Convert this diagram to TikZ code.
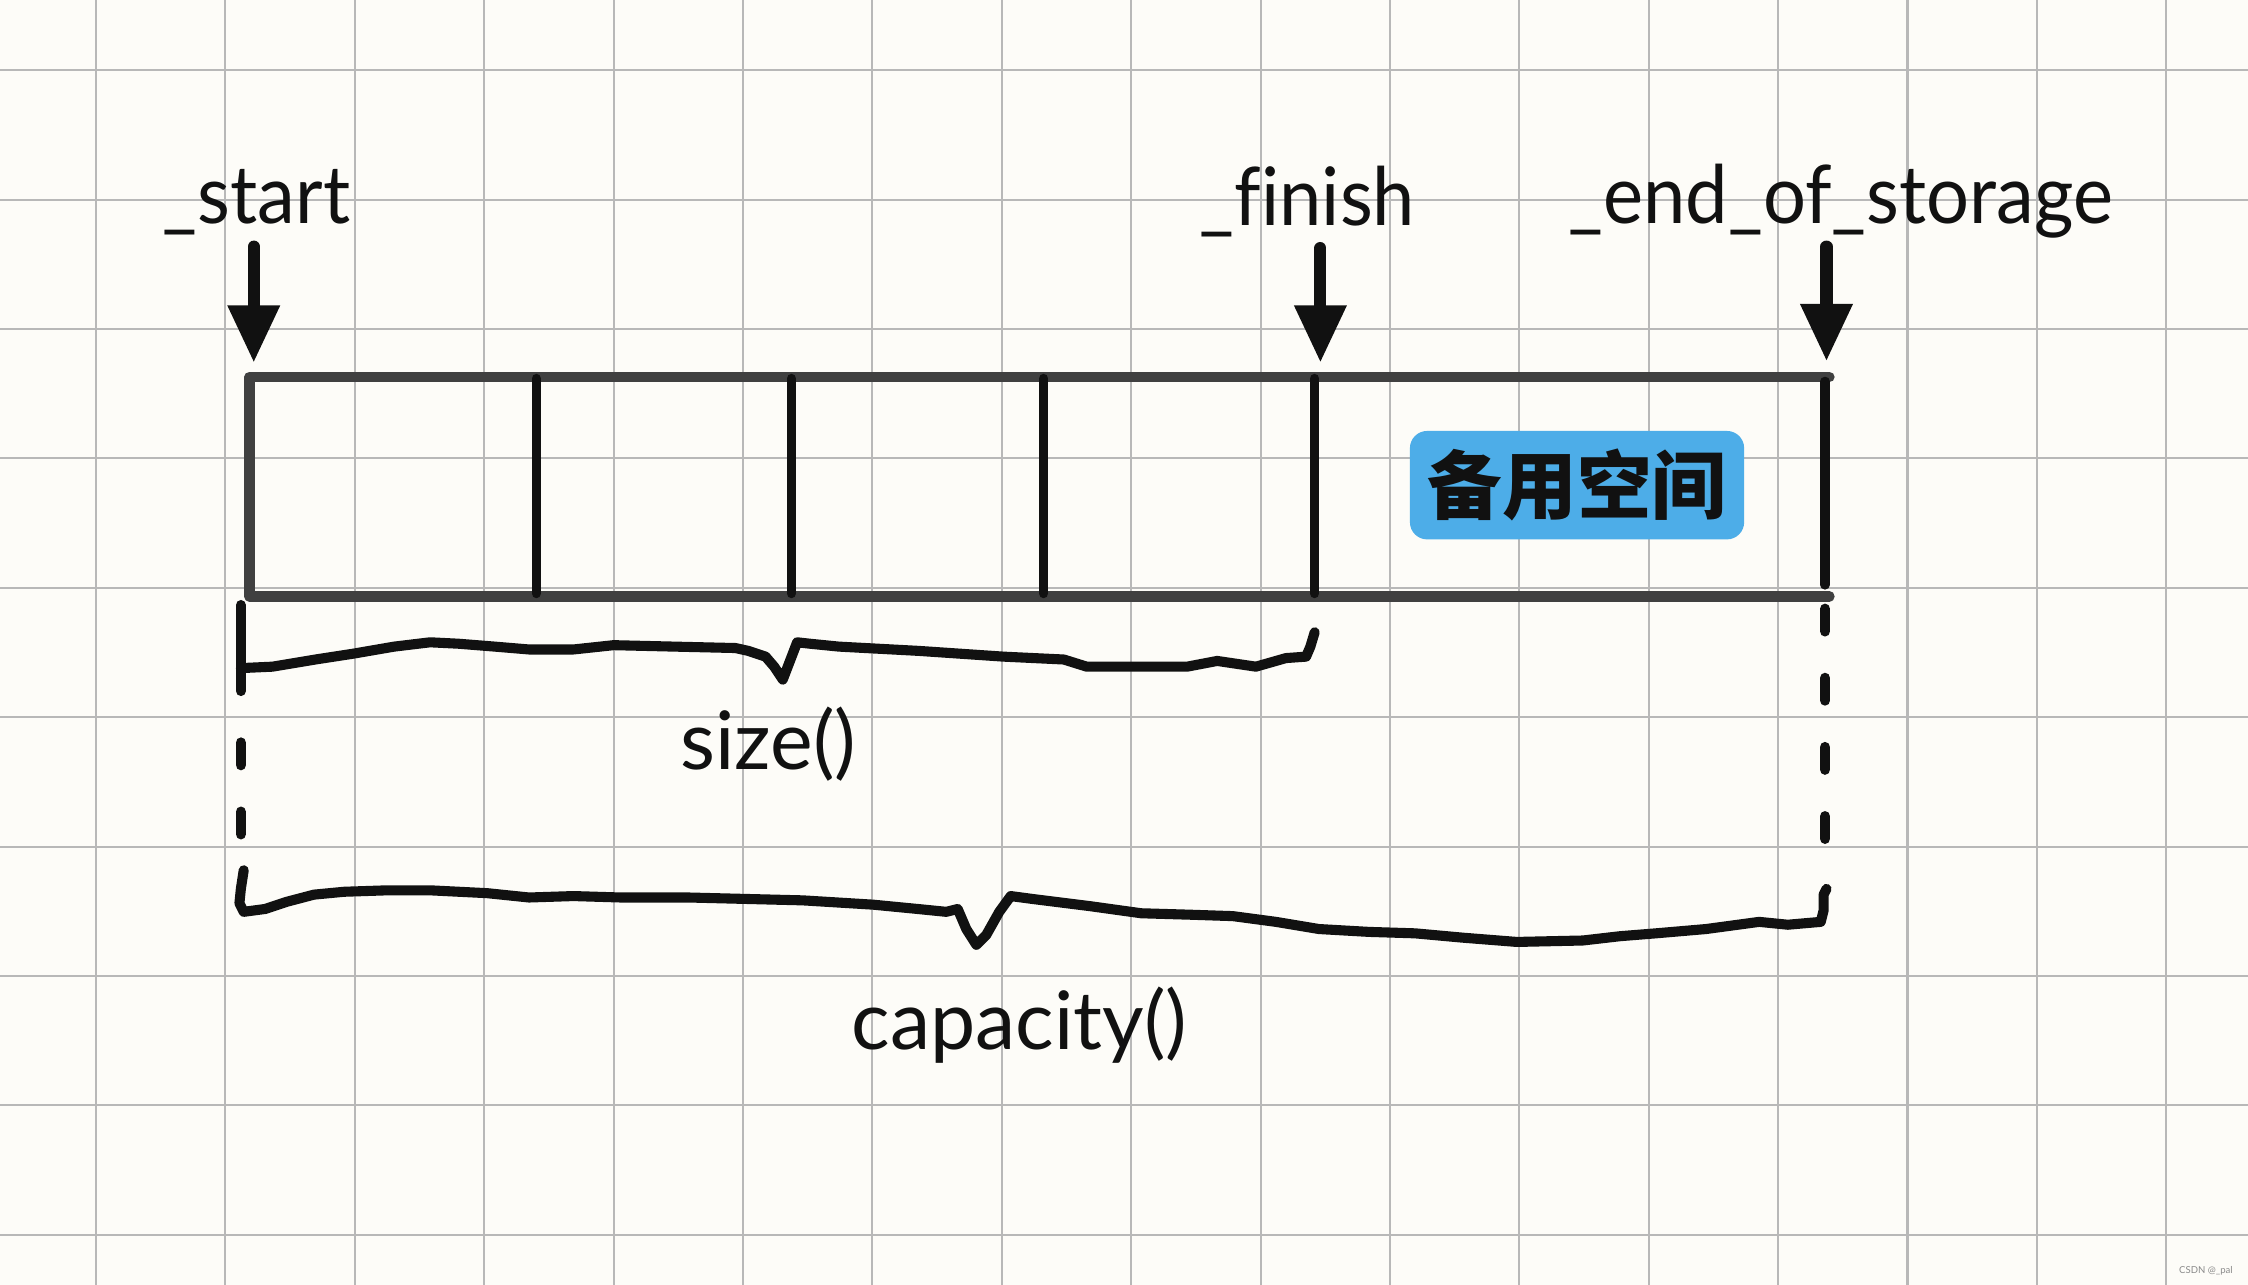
\documentclass[tikz,border=0pt]{standalone}
\usepackage{fontspec}
\setmainfont{Lato}[Ligatures=NoCommon]
\newfontfamily\ptrfont{Lato}[Ligatures=NoCommon, FakeStretch=0.94]
\newfontfamily\cjk{Noto Sans CJK SC}
\usetikzlibrary{arrows.meta}
\definecolor{cpaper}{HTML}{FDFCF8}
\definecolor{cgridline}{HTML}{B8B8B8}
\definecolor{cframe}{HTML}{404040}
\definecolor{cink}{HTML}{111111}
\definecolor{cspare}{HTML}{4DADE8}
\definecolor{cmark}{HTML}{8A8A8A}
\tikzset{
  every picture/.style={font=\fontsize{16pt}{18pt}\selectfont},
  gridline/.style={draw=cgridline, line width=0.4pt},
  frame/.style={draw=cframe, line width=2.1pt, line cap=round, line join=round},
  divider/.style={draw=cink, line width=1.85pt, line cap=round},
  ptr/.style={draw=cink, line width=2.4pt, line cap=round, -{Triangle[length=11.4pt, width=9.8pt]}},
  brace/.style={draw=cink, line width=2pt, line cap=round, line join=round},
  dashline/.style={draw=cink, line width=2.1pt, line cap=round, dash pattern=on 0.156cm off 0.326cm},
  label/.style={anchor=base, inner sep=0pt, text=cink},
}

\begin{document}
\begin{tikzpicture}[
  x=0.01cm, y=-0.01cm,
  ptrlabel/.style={label, font=\ptrfont\fontsize{16pt}{18pt}\selectfont},
  spare/.style={fill=cspare, rounded corners=0.12cm, minimum width=2.33cm, minimum height=0.756cm,
    inner sep=0pt, font=\cjk\bfseries\fontsize{14.8pt}{16pt}\selectfont, text=cink},
]
  \useasboundingbox (0,0) rectangle (1568,896);
  \fill[cpaper] (0,0) rectangle (1568,896);
  \foreach \i in {0,...,16} \draw[gridline] ({67+90.25*\i},0) -- ({67+90.25*\i},896);
  \foreach \j in {0,...,9} \draw[gridline] (0,{49+90.25*\j}) -- (1568,{49+90.25*\j});

  \draw[frame] (1276,263) -- (174,263) -- (174,416) -- (1276,416);
  \foreach \x in {374,552,728,917} \draw[divider] (\x,264) -- (\x,414);
  \draw[divider] (1273,266) -- (1273,408);
  \node[spare] (spare) at (1100,338.4) {备用空间};

  \node[ptrlabel] (lstart) at (179,156) {\_start};
  \node[ptrlabel] (lfinish) at (912,157) {\_finish};
  \node[ptrlabel] (lend) at (1284,156) {\_end\_of\_storage};
  \coordinate (qstart) at (177,172);
  \coordinate (pstart) at (177,253);
  \coordinate (qfinish) at (921,173);
  \coordinate (pfinish) at (921,253);
  \coordinate (qend) at (1274,172);
  \coordinate (pend) at (1274,252);
  \draw[ptr] (qstart) -- (pstart);
  \draw[ptr] (qfinish) -- (pfinish);
  \draw[ptr] (qend) -- (pend);

  \draw[brace] (168,422) -- (168,482);
  \draw[brace] (168,466) -- (190,465) -- (220,460) -- (246,456) -- (275,451) -- (300,448) -- (320,449)
    -- (345,451) -- (369,453) -- (400,453) -- (428,450) -- (470,451) -- (513,452) -- (522,454)
    -- (534,458) -- (540,465) -- (546,474) -- (551,461) -- (556,448) -- (565,449) -- (585,451)
    -- (641,454) -- (700,458) -- (742,460) -- (758,465) -- (800,465) -- (828,465) -- (849,461)
    -- (876,465) -- (897,459) -- (911,458) -- (914,451) -- (917,441);
  \draw[dashline] (168,518) -- (168,586);
  \draw[dashline] (1273,424.7) -- (1273,590);
  \draw[brace] (170,607) -- (168,620) -- (167,630) -- (170,636) -- (185,634) -- (200,629) -- (219,624)
    -- (240,622) -- (270,621) -- (300,621) -- (340,623) -- (369,626) -- (400,625) -- (433,626)
    -- (480,626) -- (520,627) -- (560,628) -- (609,631) -- (640,634) -- (660,636) -- (668,634)
    -- (674,648) -- (681,659) -- (688,652) -- (697,636) -- (705,625) -- (720,627) -- (760,632)
    -- (796,637) -- (830,638) -- (860,639) -- (890,643) -- (920,648) -- (955,650) -- (987,651)
    -- (1020,654) -- (1058,657) -- (1104,656) -- (1130,653) -- (1155,651) -- (1190,648)
    -- (1227,643) -- (1247,645) -- (1270,643) -- (1272,635) -- (1272,624) -- (1274,620);

  \node[label] (lsize) at (536,537) {size()};
  \node[label] (lcap) at (711,732) {capacity()};
  \node[anchor=base east, inner sep=0pt, text=cmark, font=\fontsize{1.9pt}{2pt}\selectfont] (mark)
    at (1558,888) {CSDN @\_pal};
\end{tikzpicture}
\end{document}
